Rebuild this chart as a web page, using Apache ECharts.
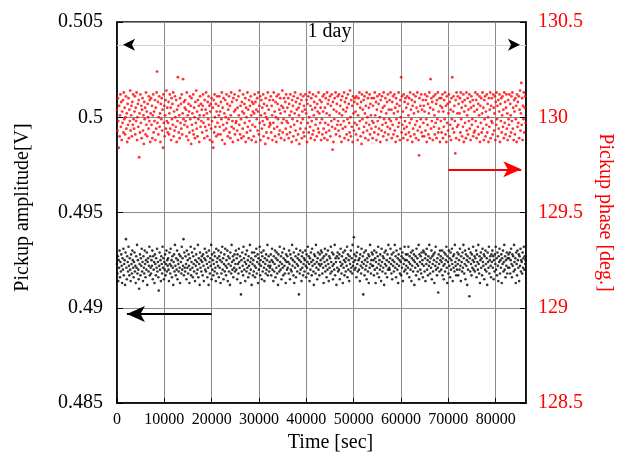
<!DOCTYPE html>
<html><head><meta charset="utf-8">
<script src="https://cdn.jsdelivr.net/npm/echarts@6/dist/echarts.min.js"></script>
<style>html,body{margin:0;padding:0;background:#fff}#c{width:618px;height:455px}</style>
</head><body><div id="c"></div>
<script>
// acquisition interval of the logger [s]
const SAMPLE_STEP = 90;

// Pickup amplitude [V]
const amplitude = [
.4923,.4918,.4927,.4914,.4925,.4921,.4930,.4916,.4924,.4919,.4928,.4922,.4913,.4926,.4920,.4931,.4917,.4923,.4925,.4912,.4929,.4936,.4921,.4915,.4927,.4924,.4919,.4932,.4922,.4917,.4926,.4920,.4914,.4928,.4923,.4918,.4930,.4925,.4921,.4916,
.4924,.4929,.4919,.4922,.4913,.4927,.4921,.4933,.4918,.4925,.4920,.4915,.4910,.4923,.4928,.4917,.4926,.4922,.4931,.4919,.4924,.4914,.4927,.4921,.4918,.4930,.4923,.4916,.4925,.4920,.4929,.4912,.4924,.4926,.4919,.4922,.4932,.4917,.4927,.4921,
.4918,.4925,.4922,.4930,.4915,.4927,.4920,.4924,.4913,.4928,.4923,.4917,.4926,.4921,.4931,.4919,.4924,.4916,.4909,.4922,.4929,.4920,.4925,.4914,.4927,.4923,.4918,.4932,.4921,.4926,.4915,.4924,.4920,.4928,.4917,.4923,.4930,.4919,.4925,.4922,
.4926,.4920,.4914,.4929,.4923,.4918,.4931,.4922,.4925,.4916,.4927,.4921,.4912,.4924,.4928,.4919,.4933,.4922,.4917,.4926,.4920,.4930,.4915,.4925,.4923,.4919,.4928,.4921,.4913,.4927,.4924,.4918,.4932,.4920,.4926,.4922,.4936,.4917,.4929,.4921,
.4919,.4927,.4923,.4915,.4930,.4921,.4925,.4918,.4928,.4922,.4913,.4926,.4920,.4932,.4917,.4924,.4929,.4921,.4916,.4927,.4923,.4919,.4931,.4914,.4925,.4922,.4928,.4918,.4924,.4920,.4933,.4916,.4926,.4923,.4912,.4929,.4921,.4925,.4919,.4927,
.4924,.4917,.4928,.4922,.4914,.4926,.4931,.4920,.4925,.4919,.4929,.4923,.4916,.4927,.4921,.4912,.4930,.4924,.4918,.4926,.4922,.4933,.4915,.4928,.4920,.4925,.4917,.4923,.4929,.4919,.4927,.4921,.4914,.4931,.4924,.4918,.4926,.4922,.4930,.4916,
.4927,.4921,.4925,.4913,.4929,.4918,.4924,.4932,.4920,.4926,.4915,.4923,.4928,.4919,.4931,.4922,.4917,.4925,.4921,.4930,.4914,.4927,.4923,.4919,.4926,.4912,.4929,.4922,.4918,.4933,.4924,.4920,.4927,.4916,.4925,.4921,.4928,.4919,.4923,.4930,
.4920,.4926,.4915,.4928,.4923,.4918,.4931,.4924,.4921,.4927,.4913,.4907,.4925,.4919,.4929,.4922,.4917,.4932,.4926,.4920,.4924,.4914,.4928,.4923,.4919,.4930,.4921,.4925,.4916,.4927,.4922,.4918,.4933,.4924,.4920,.4926,.4912,.4929,.4923,.4917,
.4925,.4919,.4929,.4922,.4916,.4927,.4921,.4931,.4918,.4924,.4928,.4913,.4926,.4920,.4923,.4932,.4917,.4925,.4922,.4929,.4915,.4927,.4919,.4924,.4930,.4921,.4914,.4926,.4923,.4918,.4928,.4920,.4925,.4933,.4917,.4922,.4927,.4919,.4924,.4921,
.4922,.4928,.4917,.4925,.4931,.4920,.4924,.4914,.4927,.4919,.4923,.4930,.4916,.4926,.4921,.4929,.4918,.4925,.4912,.4928,.4922,.4919,.4932,.4924,.4920,.4927,.4915,.4923,.4929,.4921,.4917,.4926,.4931,.4922,.4918,.4925,.4913,.4928,.4924,.4920,
.4927,.4921,.4924,.4918,.4930,.4923,.4915,.4928,.4920,.4926,.4919,.4933,.4922,.4925,.4917,.4929,.4913,.4924,.4921,.4927,.4916,.4931,.4923,.4919,.4926,.4922,.4928,.4907,.4925,.4918,.4930,.4920,.4924,.4914,.4927,.4921,.4929,.4917,.4923,.4926,
.4919,.4925,.4930,.4922,.4916,.4928,.4921,.4924,.4932,.4918,.4927,.4923,.4914,.4926,.4920,.4929,.4924,.4917,.4931,.4922,.4925,.4919,.4912,.4928,.4923,.4927,.4918,.4933,.4921,.4924,.4915,.4926,.4929,.4920,.4923,.4917,.4928,.4922,.4925,.4930,
.4923,.4929,.4918,.4926,.4921,.4913,.4927,.4924,.4931,.4919,.4922,.4928,.4916,.4925,.4920,.4930,.4923,.4914,.4927,.4921,.4926,.4918,.4932,.4924,.4919,.4929,.4922,.4915,.4928,.4923,.4920,.4933,.4917,.4926,.4924,.4912,.4927,.4921,.4929,.4919,
.4926,.4920,.4928,.4915,.4924,.4931,.4922,.4918,.4927,.4923,.4913,.4929,.4921,.4925,.4917,.4930,.4924,.4919,.4926,.4922,.4932,.4916,.4928,.4920,.4925,.4914,.4927,.4923,.4919,.4930,.4921,.4926,.4918,.4933,.4922,.4924,.4937,.4928,.4920,.4925,
.4921,.4927,.4916,.4929,.4923,.4919,.4932,.4925,.4920,.4926,.4914,.4928,.4922,.4918,.4931,.4924,.4921,.4927,.4907,.4923,.4929,.4917,.4925,.4920,.4930,.4922,.4915,.4926,.4924,.4919,.4928,.4913,.4927,.4921,.4933,.4923,.4918,.4925,.4929,.4922,
.4928,.4922,.4925,.4917,.4930,.4920,.4926,.4913,.4924,.4929,.4921,.4918,.4927,.4932,.4923,.4916,.4925,.4920,.4928,.4922,.4914,.4931,.4924,.4919,.4927,.4921,.4926,.4912,.4929,.4923,.4918,.4930,.4922,.4925,.4916,.4928,.4920,.4933,.4924,.4921,
.4920,.4926,.4931,.4923,.4918,.4928,.4915,.4925,.4922,.4929,.4919,.4924,.4933,.4921,.4927,.4916,.4930,.4923,.4920,.4926,.4913,.4928,.4922,.4925,.4918,.4931,.4924,.4917,.4927,.4921,.4929,.4914,.4926,.4923,.4919,.4932,.4925,.4920,.4928,.4922,
.4925,.4918,.4928,.4921,.4932,.4924,.4916,.4927,.4923,.4920,.4929,.4914,.4926,.4922,.4930,.4919,.4925,.4928,.4912,.4924,.4921,.4927,.4917,.4931,.4923,.4926,.4919,.4922,.4933,.4915,.4928,.4924,.4920,.4927,.4918,.4929,.4923,.4925,.4916,.4930,
.4922,.4929,.4919,.4926,.4914,.4928,.4923,.4931,.4920,.4925,.4917,.4927,.4922,.4933,.4924,.4918,.4926,.4921,.4930,.4915,.4927,.4923,.4919,.4928,.4925,.4913,.4929,.4922,.4932,.4920,.4924,.4917,.4926,.4921,.4908,.4928,.4923,.4919,.4930,.4925,
.4927,.4920,.4924,.4930,.4917,.4926,.4922,.4915,.4929,.4923,.4919,.4928,.4925,.4932,.4921,.4913,.4927,.4924,.4918,.4930,.4922,.4926,.4916,.4929,.4920,.4925,.4931,.4923,.4914,.4927,.4921,.4928,.4919,.4933,.4924,.4922,.4917,.4926,.4920,.4929,
.4923,.4917,.4928,.4925,.4920,.4931,.4922,.4914,.4927,.4924,.4919,.4929,.4921,.4933,.4926,.4918,.4923,.4930,.4915,.4928,.4922,.4925,.4912,.4927,.4920,.4924,.4931,.4906,.4926,.4919,.4929,.4923,.4917,.4928,.4921,.4925,.4932,.4920,.4924,.4927,
.4919,.4926,.4922,.4930,.4916,.4928,.4924,.4920,.4933,.4923,.4918,.4927,.4913,.4925,.4929,.4921,.4926,.4917,.4931,.4924,.4922,.4928,.4915,.4927,.4920,.4930,.4923,.4919,.4926,.4912,.4929,.4924,.4921,.4932,.4918,.4925,.4927,.4922,.4916,.4928,
.4924,.4930,.4921,.4927,.4915,.4925,.4919,.4928,.4923,.4932,.4920,.4926,.4917,.4929,.4922,.4914,.4927,.4924,.4931,.4918,.4925,.4921,.4928,.4913,.4926,.4923,.4930,.4919,.4924,.4933,.4920,.4927,.4916,.4925,.4922,.4929,.4918,.4926,.4921,.4928,
.4926,.4921,.4929,.4918,.4925,.4931,.4923,.4916,.4928,.4922,.4927,.4919,.4933,.4924,.4920,.4926,.4913,.4929,.4923,.4917,.4930,.4925,.4921,.4928,.4914,.4927,.4922,.4931,.4919,.4925,.4924,.4918,.4929,.4921,.4926,.4932,.4920,.4927,.4923,.4925
];

// Pickup phase [deg.]
const phase = [
130.04,129.93,130.1,129.98,129.84,130.06,129.9,130.01,130.12,129.95,130.08,129.88,130.03,129.97,130.09,129.92,130.13,129.99,130.05,129.91,130,130.11,129.94,130.02,129.87,130.07,129.96,130.1,129.89,130.04,129.98,130.14,129.93,130.01,130.06,129.9,130.08,129.96,130.12,129.99,
129.94,130.03,130.11,129.91,130.05,129.98,130.13,129.88,130,130.07,129.95,130.09,129.79,130.02,129.92,130.12,129.97,130.06,129.89,130.04,130.1,129.93,130.01,129.86,130.08,129.99,130.05,129.91,130.13,129.96,130.03,129.9,130.07,130,129.94,130.11,129.98,130.09,129.87,130.02,
130.1,129.96,130.06,129.89,130.01,130.12,129.92,130.03,129.98,130.09,129.88,130.05,129.94,130.13,130.24,129.97,130.08,129.91,130,130.11,129.95,130.02,129.87,130.07,129.99,130.1,129.93,130.04,129.84,130.12,129.97,130.06,129.9,130.01,130.09,129.94,130.14,129.98,130.05,129.92,
129.97,130.08,129.91,130.02,130.12,129.94,130.05,129.88,130.1,129.99,130.07,129.96,130.13,129.9,130.03,129.93,130.11,130,129.95,130.09,129.87,130.04,129.98,130.21,130.06,129.92,130.01,129.89,130.1,129.97,130.07,129.94,130.12,129.91,130.02,130.2,129.99,130.08,129.96,130.05,
130.09,129.98,130.04,129.9,130.13,129.95,130.01,129.88,130.07,130.03,129.92,130.11,129.99,130.06,129.86,130.1,129.96,130.02,129.93,130.12,129.91,130.05,130,129.89,130.08,129.97,130.14,129.94,130.03,129.9,130.09,129.99,130.06,129.87,130.01,130.11,129.95,130.07,129.98,130.04,
129.92,130.06,130.12,129.97,130.01,129.89,130.09,129.95,130.04,130.13,129.93,130.02,129.9,130.08,129.99,130.11,129.96,130.06,129.88,130.03,130.07,129.94,130.1,129.98,129.87,130.05,129.84,130.09,129.92,130.12,130,129.95,130.07,129.9,130.03,130.11,129.97,129.91,130.06,130.01,
130.11,129.95,130.03,129.91,130.08,129.99,130.13,129.88,130.05,129.96,130.1,129.93,130.02,129.86,130.09,130,129.94,130.12,129.97,130.07,129.9,130.04,129.99,130.11,129.92,130.06,129.89,130.01,130.13,129.95,130.08,129.98,129.87,130.1,129.94,130.03,130.12,129.91,130.04,129.97,
129.98,130.09,129.93,130.05,129.88,130.11,130.01,129.96,130.14,129.91,130.06,129.99,129.89,130.08,130.03,129.94,130.12,129.9,130.02,130.07,129.97,130.1,129.87,130.05,130,129.92,130.13,129.95,130.04,129.89,130.09,129.98,130.06,129.93,130.11,130.01,129.88,130.08,129.96,130.03,
130.07,129.9,130.02,130.12,129.95,130.08,129.87,130.04,129.99,130.1,129.93,130.03,130.13,129.91,130.06,129.97,130.11,129.88,130.01,130.09,129.94,130.05,129.98,130.12,129.9,130.07,129.96,130.02,129.86,130.1,130,129.92,130.06,129.99,130.13,129.89,130.04,129.95,130.09,129.97,
129.96,130.11,129.92,130.06,130.01,129.88,130.09,129.97,130.13,129.94,130.03,129.9,130.08,130,129.87,130.11,129.95,130.07,129.99,130.12,129.91,130.04,129.93,130.1,130.02,129.89,130.06,129.97,130.14,129.92,130.05,129.99,130.1,129.88,130.03,130.08,129.94,130.12,129.98,129.91,
130.05,129.97,130.1,129.89,130.07,130.01,129.92,130.12,129.95,130.03,129.87,130.09,129.99,130.06,129.9,130.11,129.96,130.02,130.13,129.93,130.08,129.88,130.04,129.98,130.1,129.91,130.05,130.01,129.86,130.07,129.94,130.12,129.97,130.09,129.89,130.03,129.99,130.11,129.92,130.06,
129.9,130.04,130.12,129.94,130.02,130.09,129.87,130.07,129.97,130.11,129.92,130,130.13,129.95,130.06,129.89,130.1,129.98,130.04,129.91,130.12,129.93,130.01,130.08,129.88,130.05,129.96,130.11,129.99,129.9,130.07,130.03,129.94,130.13,129.92,130.02,130.09,129.97,130.05,129.88,
130.08,129.99,129.91,130.11,130.03,129.94,130.12,129.89,130.05,129.97,130.1,129.92,130.02,130.13,129.88,130.07,129.96,130.09,129.93,130.01,130.11,129.9,130.06,129.98,130.12,129.95,129.83,130.08,129.87,130.04,129.99,130.1,129.94,130.13,129.91,130.03,130.07,129.96,130.11,129.98,
129.93,130.12,130.02,129.9,130.06,129.96,130.09,129.87,130.01,130.11,129.94,130.04,129.98,130.13,129.89,130.08,129.95,130.03,130.1,129.91,130.05,129.99,130.12,129.88,130.07,129.97,129.92,130.14,130,129.9,130.09,129.95,130.06,129.87,130.11,130.02,129.93,130.08,129.97,130.1,
130.03,129.91,130.11,129.96,130.07,129.88,130.01,130.1,129.94,130.13,129.98,130.05,129.9,130.08,129.86,130.12,129.99,130.04,129.92,130.09,129.95,130.11,130.02,129.89,130.06,129.97,130.13,129.93,130,130.1,129.88,130.05,129.96,130.12,129.91,130.07,130.01,129.94,130.1,129.98,
129.89,130.06,129.97,130.1,129.92,130.13,130.01,129.95,130.08,129.88,130.04,130.11,129.98,129.91,130.07,129.94,130.12,130,129.87,130.09,130.03,129.93,130.11,129.96,130.05,129.9,130.13,129.99,130.06,129.92,130.1,129.97,130.02,129.88,130.08,129.95,130.12,129.91,130.04,129.99,
130.09,129.94,130.13,129.98,130.04,129.89,130.08,129.96,130.11,129.91,130.02,130.12,129.93,130.05,129.87,130.1,129.99,130.07,129.9,130.03,129.95,130.13,129.97,130.06,129.88,130.09,130,130.21,129.92,130.11,129.96,130.03,129.89,130.12,129.94,130.08,129.98,130.1,129.91,130.05,
129.95,130.11,129.88,130.07,130.01,129.92,130.1,129.97,130.13,129.9,130.04,129.99,130.09,129.87,130.06,129.94,130.12,130.02,129.91,130.08,129.96,130.11,129.89,130.05,129.98,130.13,129.93,130.03,129.88,129.8,130.1,129.95,130.06,129.99,130.12,129.92,130.04,129.9,130.09,129.97,
130.06,129.9,130.03,130.12,129.93,130.09,129.99,129.87,130.11,129.96,130.07,129.91,130.02,130.13,129.89,130.05,130.2,129.94,130.1,129.98,130.08,129.88,130.04,130.11,129.95,130.01,129.91,130.12,129.97,130.07,129.89,130.09,129.99,130.13,129.92,130.03,129.94,130.1,129.87,130.06,
129.98,130.1,129.92,130.05,130.12,129.89,130.03,129.95,130.09,129.99,130.13,129.91,130.06,129.87,130.11,129.97,130.07,129.93,130.02,130.12,129.9,130.08,129.96,130.04,129.88,130.1,129.99,130.21,129.94,130.03,130.11,129.92,130.06,129.98,129.81,130.09,129.89,130.13,129.95,130.02,
130.11,129.96,130.07,129.88,130.02,130.1,129.92,130.13,129.99,130.05,129.9,130.08,129.95,130.12,129.87,130.03,130.09,129.97,130.06,129.89,130.13,129.93,130.01,130.1,129.91,130.04,129.98,130.12,129.94,130.08,129.88,130.05,130.11,129.96,129.99,130.09,129.9,130.06,129.92,130.03,
129.93,130.13,129.98,130.09,129.89,130.04,130.12,129.95,130.07,129.91,130.01,130.11,129.87,130.06,129.97,130.1,129.92,130.02,130.13,129.94,130.05,129.88,130.09,129.99,130.11,129.9,130.03,129.96,130.12,129.92,130.07,130,129.87,130.1,129.95,130.04,130.13,129.89,130.06,129.98,
130.1,129.97,129.91,130.12,130.05,129.93,130.02,130.11,129.88,130.08,129.96,130.13,129.99,130.06,129.9,130.09,129.94,130.03,130.12,129.87,130.07,129.98,130.1,129.92,130.01,130.11,129.95,130.04,129.89,130.13,129.97,130.08,129.91,130.05,130.12,129.94,130.02,129.88,130.09,129.99,
129.96,130.12,129.9,130.07,130.01,129.92,130.11,129.98,130.13,129.94,130.05,129.88,130.09,130.03,129.91,130.1,129.99,130.06,129.87,130.12,129.95,130.08,129.97,130.11,129.89,130.04,130.14,129.93,130.02,130.18,129.96,130.1,129.88,130.06,129.99,130.13,129.92,130.05,130.11,129.97
];

// axis ranges
const timeAxis = { min: 0, max: 86400, interval: 10000 };
const ampAxis = { min: 0.485, max: 0.505, interval: 0.005 };
const phaseAxis = { min: 128.5, max: 130.5, interval: 0.5 };

// annotations (data coordinates)
const dayLabel = '1 day';
const dayMarker = { from: 0, to: 86400, level: 0.5038 };
const ampArrow = { from: 20000, to: 2100, level: 0.48967 };
const phaseArrow = { from: 70000, to: 85400, level: 129.727 };

const time = amplitude.map((_, i) => i * SAMPLE_STEP);
const FONT = '"Liberation Serif", "DejaVu Serif", serif';

const chart = echarts.init(document.getElementById('c'), null, { renderer: 'canvas' });
chart.setOption({
  animation: false,
  backgroundColor: '#fff',
  grid: { left: 117, right: 92, top: 22, bottom: 52, containLabel: false, outerBoundsMode: 'none',
          show: true, borderColor: '#000', borderWidth: 1.5, backgroundColor: 'transparent' },
  xAxis: {
    type: 'value', min: timeAxis.min, max: timeAxis.max, interval: timeAxis.interval,
    name: 'Time [sec]', nameLocation: 'middle', nameGap: 24,
    nameTextStyle: { fontFamily: FONT, fontSize: 20, color: '#000', padding: [0, 0, 0, 18] },
    axisLine: { show: true, lineStyle: { color: '#000', width: 1.5 } },
    axisTick: { show: true, inside: true, length: 5, lineStyle: { color: '#000' } },
    axisLabel: { fontFamily: FONT, fontSize: 16, color: '#000', margin: 9, showMaxLabel: false, formatter: v => String(v) },
    splitLine: { show: true, lineStyle: { color: '#8a8a8a', width: 1 } }
  },
  yAxis: [{
    type: 'value', position: 'left', min: ampAxis.min, max: ampAxis.max, interval: ampAxis.interval,
    name: 'Pickup amplitude[V]', nameLocation: 'middle', nameGap: 84, nameRotate: 90,
    nameTextStyle: { fontFamily: FONT, fontSize: 20, color: '#000', padding: [0, 0, 0, 10] },
    axisLine: { show: true, lineStyle: { color: '#000', width: 1.5 } },
    axisTick: { show: true, inside: true, length: 6, lineStyle: { color: '#000' } },
    axisLabel: { fontFamily: FONT, fontSize: 20, color: '#000', margin: 14, formatter: v => String(+v.toFixed(3)) },
    splitLine: { show: true, lineStyle: { color: '#8a8a8a', width: 1 } }
  }, {
    type: 'value', position: 'right', min: phaseAxis.min, max: phaseAxis.max, interval: phaseAxis.interval,
    name: 'Pickup phase [deg.]', nameLocation: 'middle', nameGap: 69, nameRotate: -90,
    nameTextStyle: { fontFamily: FONT, fontSize: 20, color: '#ff0000' },
    axisLine: { show: true, lineStyle: { color: '#000', width: 1.5 } },
    axisTick: { show: true, inside: true, length: 6, lineStyle: { color: '#000' } },
    axisLabel: { fontFamily: FONT, fontSize: 20, color: '#ff0000', margin: 12, formatter: v => String(+v.toFixed(1)) },
    splitLine: { show: false }
  }],
  series: [{
    name: 'Pickup amplitude', type: 'scatter', xAxisIndex: 0, yAxisIndex: 0, silent: true,
    data: time.map((t, i) => [t, amplitude[i]]),
    symbolSize: 2.6, itemStyle: { color: '#000' },
    markLine: {
      silent: true, animation: false, symbol: 'none', label: { show: false },
      emphasis: { disabled: true },
      data: [
        [{ coord: [dayMarker.from, dayMarker.level], symbol: 'none',
           lineStyle: { color: '#cfcfcf', width: 1, type: 'solid' },
           label: { show: true, formatter: dayLabel, position: 'insideMiddleTop', distance: 3, offset: [8, 0],
                    fontFamily: FONT, fontSize: 20, color: '#000' } },
         { coord: [dayMarker.to, dayMarker.level], symbol: 'none' }],
        [{ coord: [ampArrow.from, ampArrow.level], symbol: 'none', lineStyle: { color: '#000', width: 2, type: 'solid' } },
         { coord: [ampArrow.to, ampArrow.level], symbol: 'arrow', symbolSize: [12, 18] }]
      ]
    },
    markPoint: {
      silent: true, animation: false, label: { show: false }, itemStyle: { color: '#000' },
      data: [
        { coord: [dayMarker.from, dayMarker.level], symbol: 'arrow', symbolSize: [9, 12], symbolRotate: 90, symbolOffset: [6, 0] },
        { coord: [dayMarker.to, dayMarker.level], symbol: 'arrow', symbolSize: [9, 12], symbolRotate: -90, symbolOffset: [-6, 0] }
      ]
    }
  }, {
    name: 'Pickup phase', type: 'scatter', xAxisIndex: 0, yAxisIndex: 1, silent: true,
    data: time.map((t, i) => [t, phase[i]]),
    symbolSize: 2.8, itemStyle: { color: '#ff0000' },
    markLine: {
      silent: true, animation: false, symbol: 'none', label: { show: false },
      emphasis: { disabled: true },
      data: [
        [{ coord: [phaseArrow.from, phaseArrow.level], symbol: 'none', lineStyle: { color: '#ff0000', width: 2, type: 'solid' } },
         { coord: [phaseArrow.to, phaseArrow.level], symbol: 'arrow', symbolSize: [12, 18] }]
      ]
    }
  }]
});
</script>
</body></html>
